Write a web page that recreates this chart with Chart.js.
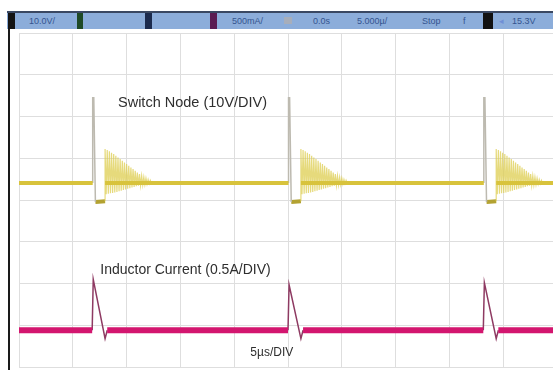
<!DOCTYPE html>
<html>
<head>
<meta charset="utf-8">
<script src="https://cdn.jsdelivr.net/npm/chart.js@4/dist/chart.umd.min.js"></script>
<style>
  html, body { margin: 0; padding: 0; background: #fff; overflow: hidden; width: 553px; height: 370px; }
  #wrap { position: absolute; left: 0; top: 0; width: 560px; height: 370px; }
  #frame { position: absolute; left: 8px; top: 11px; width: 2px; height: 359px; background: #1a1a1a; }
  #bar { position: absolute; left: 7px; top: 11px; width: 546px; height: 16px; background: #8cadda;
         border-top: 2px solid #3a4862; font: 9px "Liberation Sans", Arial, sans-serif; color: #34548f; }
  #bar span { position: absolute; top: 3px; white-space: nowrap; }
  #bar i { position: absolute; top: 0; height: 16px; display: block; }
</style>
</head>
<body>
<div id="wrap"><canvas id="scope"></canvas></div>
<div id="frame"></div>
<div id="bar">
  <i style="left:1px;width:7px;background:#141414"></i>
  <span style="left:22px">10.0V/</span>
  <i style="left:70px;width:6px;background:#1f4a26"></i>
  <i style="left:138px;width:7px;background:#1c2b4e"></i>
  <i style="left:203px;width:7px;background:#5b1c52"></i>
  <span style="left:225px">500mA/</span>
  <i style="left:277px;top:4px;width:8px;height:7px;background:#a7aebb"></i>
  <span style="left:306px">0.0s</span>
  <span style="left:350px">5.000µ/</span>
  <span style="left:415px">Stop</span>
  <span style="left:456px">f</span>
  <i style="left:476px;width:10px;background:#121212"></i>
  <span style="left:492px;color:#6f8fd6">◂</span>
  <span style="left:505px">15.3V</span>
</div>
<script>
// Horizontal axis: time in µs (5 µs per division, 10 divisions).
// Vertical axis: screen divisions (8 divisions).
const timeRange = [0, 50];
const divRange = [0, 8];

// Switch node (channel 1)
const switchEdges = [6.85, 25.05, 43.2];      // µs, turn-off edges
const swBaseline = 4.41;                     // div
const swSpikeTop = 6.45;                     // div
const swDwellLevel = 3.95;                   // div
const swDwellEnd = 1.15;                     // µs after edge
// ringing after each edge (µs after edge, div)
const ringTimes  = [1.15, 1.25, 1.35, 1.45, 1.55, 1.65, 1.75, 1.85, 1.95, 2.05,
                    2.15, 2.25, 2.35, 2.45, 2.55, 2.65, 2.75, 2.85, 2.95, 3.05,
                    3.15, 3.25, 3.35, 3.45, 3.55, 3.65, 3.75, 3.85, 3.95, 4.05,
                    4.15, 4.25, 4.35, 4.45, 4.55, 4.65, 4.75, 4.85, 4.95, 5.05,
                    5.15, 5.25, 5.35, 5.45, 5.55, 5.65];
const ringLevels = [5.22, 4.14, 5.20, 4.15, 5.17, 4.16, 5.13, 4.17, 5.10, 4.18,
                    5.06, 4.19, 5.02, 4.21, 4.98, 4.22, 4.94, 4.24, 4.90, 4.25,
                    4.86, 4.27, 4.82, 4.28, 4.78, 4.30, 4.74, 4.31, 4.70, 4.33,
                    4.66, 4.34, 4.62, 4.35, 4.58, 4.36, 4.55, 4.37, 4.52, 4.38,
                    4.49, 4.39, 4.47, 4.40, 4.44, 4.41];

// Inductor current (channel 4)
const ilBaseline = 0.88;                     // div
const ilPeaks = [2.10, 1.97, 2.02];          // div
const ilValley = 0.68;                       // div
const ilRise = -0.05, ilPeakAt = 0.05, ilValleyAt = 1.15, ilBack = 1.35; // µs after edge

const gap = t => ({ x: t, y: null });

// switch node pieces
const swBase = [], swSpike = [], swDwell = [], swRing = [];
let start = timeRange[0];
switchEdges.forEach((t, k) => {
  swBase.push({ x: start, y: swBaseline }, { x: t, y: swBaseline }, gap(t));
  start = t + swDwellEnd;
  swSpike.push({ x: t, y: swBaseline }, { x: t, y: swSpikeTop }, { x: t + 0.1, y: swSpikeTop },
               { x: t + 0.25, y: swDwellLevel }, gap(t + 0.25));
  swDwell.push({ x: t + 0.25, y: swDwellLevel }, { x: t + swDwellEnd, y: swDwellLevel + 0.02 }, gap(t + swDwellEnd));
  swRing.push({ x: t + swDwellEnd, y: swDwellLevel + 0.02 });
  ringTimes.forEach((r, i) => swRing.push({ x: t + r, y: ringLevels[i] }));
  swRing.push(gap(t + 6));
});
swBase.push({ x: start, y: swBaseline }, { x: timeRange[1], y: swBaseline });

// inductor current pieces
const ilBand = [], ilEdges = [];
start = timeRange[0];
switchEdges.forEach((t, k) => {
  ilBand.push({ x: start, y: ilBaseline }, { x: t + ilRise, y: ilBaseline }, gap(t + ilRise));
  start = t + ilBack;
  ilEdges.push({ x: t + ilRise, y: ilBaseline }, { x: t + ilPeakAt, y: ilPeaks[k] },
               { x: t + ilValleyAt, y: ilValley }, { x: t + ilBack, y: ilBaseline }, gap(t + ilBack));
});
ilBand.push({ x: start, y: ilBaseline }, { x: timeRange[1], y: ilBaseline });

const labels = [
  { text: 'Switch Node (10V/DIV)', x: 9.2, y: 6.32, size: 14.5 },
  { text: 'Inductor Current (0.5A/DIV)', x: 7.55, y: 2.32, size: 14 },
  { text: '5µs/DIV', x: 21.5, y: 0.35, size: 12 }
];

const line = (data, color, width) => ({
  data, borderColor: color, borderWidth: width, pointRadius: 0,
  showLine: true, spanGaps: false, tension: 0, fill: false
});

const traceLabels = {
  id: 'traceLabels',
  afterDatasetsDraw(chart) {
    const { ctx, scales: { x, y } } = chart;
    ctx.save();
    ctx.fillStyle = '#2e2e2e';
    ctx.textBaseline = 'middle';
    labels.forEach(l => {
      ctx.font = l.size + 'px "Liberation Sans", Arial, sans-serif';
      ctx.fillText(l.text, x.getPixelForValue(l.x), y.getPixelForValue(l.y));
    });
    ctx.restore();
  }
};

new Chart(document.getElementById('scope'), {
  type: 'scatter',
  data: {
    datasets: [
      line(swBase, '#d8c33c', 4),
      line(swRing, 'rgba(222,205,80,0.75)', 1.2),
      line(swSpike, '#bdbab0', 1.5),
      line(swDwell, '#b3a232', 4),
      line(ilBand, '#d3166f', 6),
      line(ilEdges, '#8e3a62', 1.5)
    ]
  },
  options: {
    responsive: true,
    maintainAspectRatio: false,
    animation: false,
    layout: { padding: { left: 19, right: 3, top: 33, bottom: 3 } },
    plugins: { legend: { display: false }, tooltip: { enabled: false } },
    scales: {
      x: {
        type: 'linear', min: timeRange[0], max: timeRange[1],
        ticks: { display: false, stepSize: 5 },
        grid: { color: '#dedede', drawTicks: false },
        border: { display: false }
      },
      y: {
        type: 'linear', min: divRange[0], max: divRange[1],
        ticks: { display: false, stepSize: 1 },
        grid: { color: '#dedede', drawTicks: false },
        border: { display: false }
      }
    }
  },
  plugins: [traceLabels]
});
</script>
</body>
</html>
